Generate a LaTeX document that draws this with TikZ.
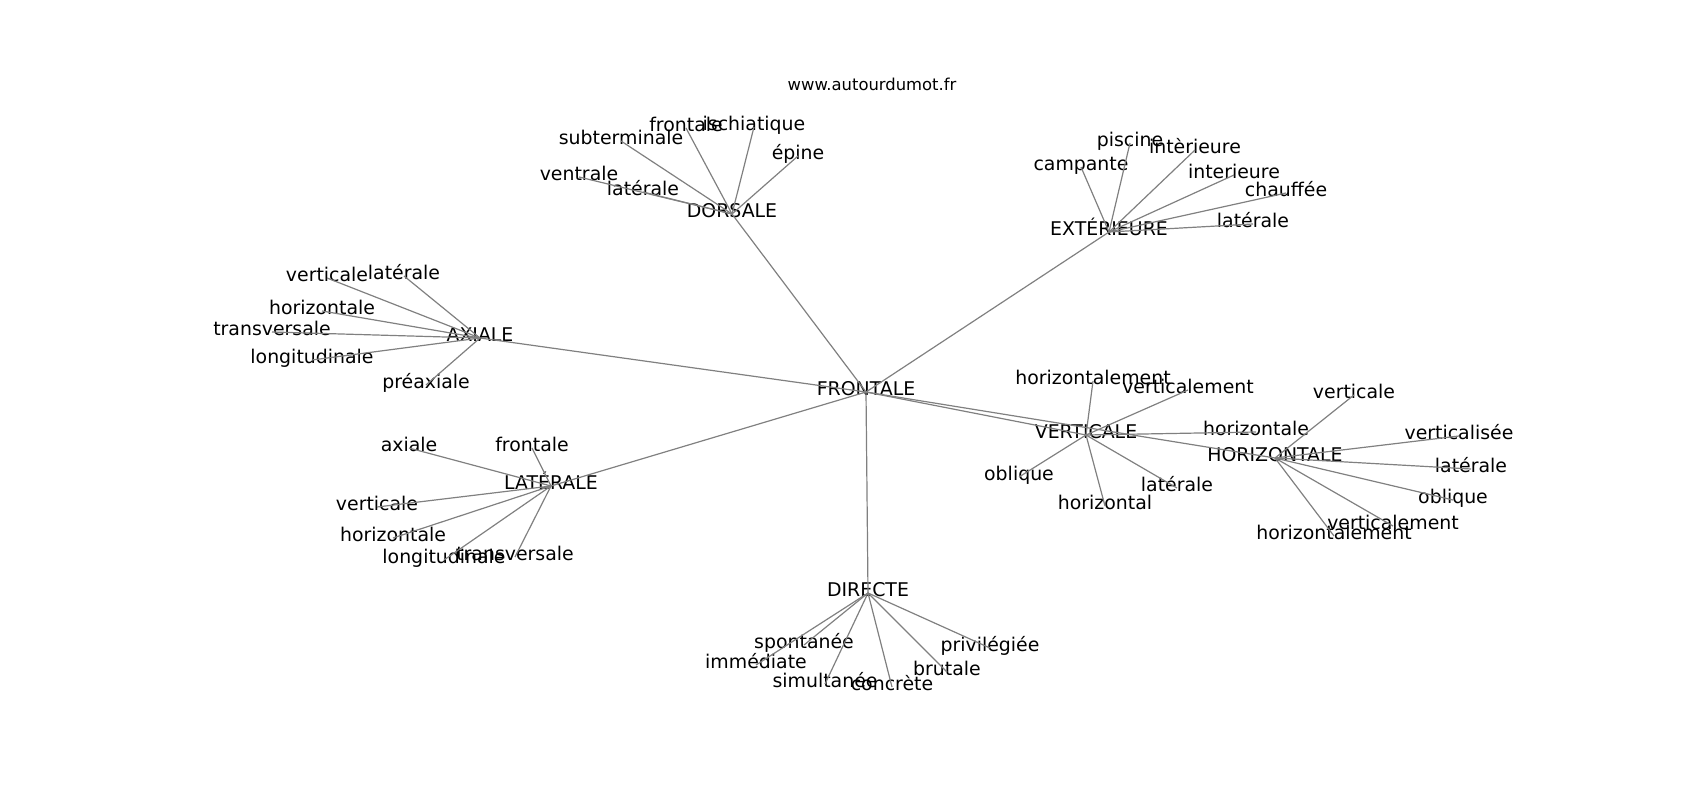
\documentclass[tikz,border=0pt]{standalone}
\usepackage{fontspec}
\setmainfont{DejaVu Sans}
\begin{document}
\begin{tikzpicture}[x=1pt,y=-1pt,
  lbl/.style={inner sep=0pt,text height=0.73em,text depth=0pt,font=\fontsize{18.9}{22}\selectfont,text=black},
  ttl/.style={inner sep=0pt,text height=0.73em,text depth=0pt,font=\fontsize{16.4}{20}\selectfont,text=black},
  edge/.style={draw=black!50,line width=1.2pt}]
\useasboundingbox (0,0) rectangle (1700,800);
\begin{scope}[yshift=-4pt]
\node[ttl] (title) at (872,83) {www.autourdumot.fr};
% hubs
\node[lbl] (F) at (866,388) {FRONTALE};
\node[lbl] (D) at (732,210) {DORSALE};
\node[lbl] (E) at (1109,228) {EXTÉRIEURE};
\node[lbl] (A) at (480,334) {AXIALE};
\node[lbl] (L) at (551,482) {LATÉRALE};
\node[lbl] (R) at (868,589) {DIRECTE};
\node[lbl] (V) at (1086,431) {VERTICALE};
\node[lbl] (H) at (1275,454) {HORIZONTALE};
% DORSALE
\node[lbl] (d1) at (621,137) {subterminale};
\node[lbl] (d2) at (686,124) {frontale};
\node[lbl] (d3) at (754,123) {ischiatique};
\node[lbl] (d4) at (798,152) {épine};
\node[lbl] (d5) at (579,173) {ventrale};
\node[lbl] (d6) at (643,188) {latérale};
% EXTERIEURE
\node[lbl] (e1) at (1130,139) {piscine};
\node[lbl] (e2) at (1195,146) {intèrieure};
\node[lbl] (e3) at (1081,163) {campante};
\node[lbl] (e4) at (1234,171) {interieure};
\node[lbl] (e5) at (1286,189) {chauffée};
\node[lbl] (e6) at (1253,220) {latérale};
% AXIALE
\node[lbl] (a1) at (327,274) {verticale};
\node[lbl] (a2) at (404,272) {latérale};
\node[lbl] (a3) at (322,307) {horizontale};
\node[lbl] (a4) at (272,328) {transversale};
\node[lbl] (a5) at (312,356) {longitudinale};
\node[lbl] (a6) at (426,381) {préaxiale};
% LATERALE
\node[lbl] (l1) at (409,444) {axiale};
\node[lbl] (l2) at (532,444) {frontale};
\node[lbl] (l3) at (377,503) {verticale};
\node[lbl] (l4) at (393,534) {horizontale};
\node[lbl] (l5) at (444,556) {longitudinale};
\node[lbl] (l6) at (515,553) {transversale};
% DIRECTE
\node[lbl] (r1) at (804,641) {spontanée};
\node[lbl] (r2) at (756,661) {immédiate};
\node[lbl] (r3) at (825,680) {simultanée};
\node[lbl] (r4) at (892,683) {concrète};
\node[lbl] (r5) at (947,668) {brutale};
\node[lbl] (r6) at (990,644) {privilégiée};
% VERTICALE
\node[lbl] (v1) at (1093,377) {horizontalement};
\node[lbl] (v2) at (1188,386) {verticalement};
\node[lbl] (v3) at (1256,428) {horizontale};
\node[lbl] (v4) at (1019,473) {oblique};
\node[lbl] (v5) at (1177,484) {latérale};
\node[lbl] (v6) at (1105,502) {horizontal};
% HORIZONTALE
\node[lbl] (h1) at (1354,391) {verticale};
\node[lbl] (h2) at (1459,432) {verticalisée};
\node[lbl] (h3) at (1471,465) {latérale};
\node[lbl] (h4) at (1453,496) {oblique};
\node[lbl] (h5) at (1393,522) {verticalement};
\node[lbl] (h6) at (1334,532) {horizontalement};
% edges
\foreach \t in {D,E,A,L,R,V,H} \draw[edge] (F.center) -- (\t.center);
\foreach \t in {d1,d2,d3,d4,d5,d6} \draw[edge] (D.center) -- (\t.center);
\foreach \t in {e1,e2,e3,e4,e5,e6} \draw[edge] (E.center) -- (\t.center);
\foreach \t in {a1,a2,a3,a4,a5,a6} \draw[edge] (A.center) -- (\t.center);
\foreach \t in {l1,l2,l3,l4,l5,l6} \draw[edge] (L.center) -- (\t.center);
\foreach \t in {r1,r2,r3,r4,r5,r6} \draw[edge] (R.center) -- (\t.center);
\foreach \t in {v1,v2,v3,v4,v5,v6} \draw[edge] (V.center) -- (\t.center);
\foreach \t in {h1,h2,h3,h4,h5,h6} \draw[edge] (H.center) -- (\t.center);
\end{scope}
\end{tikzpicture}
\end{document}
